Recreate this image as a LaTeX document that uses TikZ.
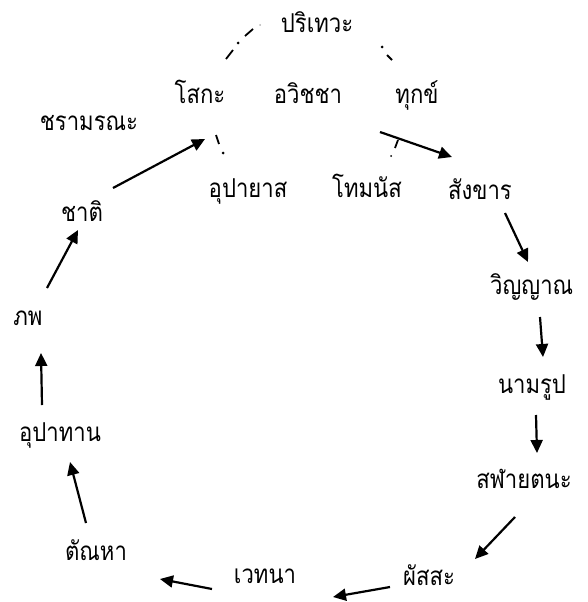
\documentclass[tikz,border=0pt]{standalone}
\usepackage{fontspec}
\newfontfamily\thai[Script=Thai, FakeStretch=0.85]{Loma}
\usetikzlibrary{arrows.meta}
\tikzset{
  lbl/.style={font=\thai\fontsize{26}{30}\selectfont, inner sep=0pt, anchor=base},
  arr/.style={line width=2.2pt, -{Triangle[length=13pt,width=12pt]}},
  frag/.style={line width=1.8pt},
  dotm/.style={fill=black, inner sep=0pt, minimum size=3pt, circle}
}
\begin{document}
\begin{tikzpicture}[x=1pt,y=-1pt]
\useasboundingbox (0,0) rectangle (587,602);
% labels
\node[lbl] (pariteva) at (317,33) {ปริเทวะ};
\node[lbl] (soka) at (200,103) {โสกะ};
\node[lbl] (avichcha) at (308,103) {อวิชชา};
\node[lbl] (dukkha) at (417,103) {ทุกข์};
\node[lbl] (chara) at (89,130) {ชรามรณะ};
\node[lbl] (upayasa) at (248,197) {อุปายาส};
\node[lbl] (domanassa) at (367,197) {โทมนัส};
\node[lbl] (sankhara) at (480,199) {สังขาร};
\node[lbl] (chati) at (82,221) {ชาติ};
\node[lbl, anchor=base west] (vinnana) at (490,294) {วิญญาณ};
\node[lbl] (phop) at (28,325) {ภพ};
\node[lbl] (namarupa) at (532,393) {นามรูป};
\node[lbl] (upadana) at (60,441) {อุปาทาน};
\node[lbl] (salayatana) at (524,488) {สฬายตนะ};
\node[lbl] (phassa) at (429,585) {ผัสสะ};
\node[lbl] (vedana) at (265,583) {เวทนา};
\node[lbl] (tanha) at (96,560) {ตัณหา};
% arrow end points
\coordinate (a1s) at (113,188); \coordinate (a1e) at (205,139);
\coordinate (a2s) at (47,288);  \coordinate (a2e) at (78,230);
\coordinate (a3s) at (42,405);  \coordinate (a3e) at (41,353);
\coordinate (a4s) at (86,523);  \coordinate (a4e) at (70,462);
\coordinate (a5s) at (212,589); \coordinate (a5e) at (160,579);
\coordinate (a6s) at (390,587); \coordinate (a6e) at (333,597);
\coordinate (a7s) at (515,517); \coordinate (a7e) at (475,559);
\coordinate (a8s) at (536,415); \coordinate (a8e) at (537,453);
\coordinate (a9s) at (540,317); \coordinate (a9e) at (543,357);
\coordinate (a10s) at (505,213); \coordinate (a10e) at (528,262);
\coordinate (a11s) at (380,132); \coordinate (a11e) at (452,157);
\foreach \i in {1,...,11} { \draw[arr] (a\i s) -- (a\i e); }
% dash-dot fragments
\draw[frag] (226,59) -- (233,50);
\node[dotm] (d1) at (238,43) {};
\draw[frag] (245,36) -- (253,29);
\node[fill=black!30, circle, inner sep=0pt, minimum size=2pt] (d0) at (260,25) {};
\node[dotm] (d2) at (382,47) {};
\draw[frag] (387,55) -- (392,60);
\draw[frag] (398,140) -- (395,148);
\node[dotm, minimum size=2pt] (d3) at (391,156) {};
\draw[frag] (216,135) -- (219,144);
\node[dotm] (d4) at (223,153) {};
\end{tikzpicture}
\end{document}
